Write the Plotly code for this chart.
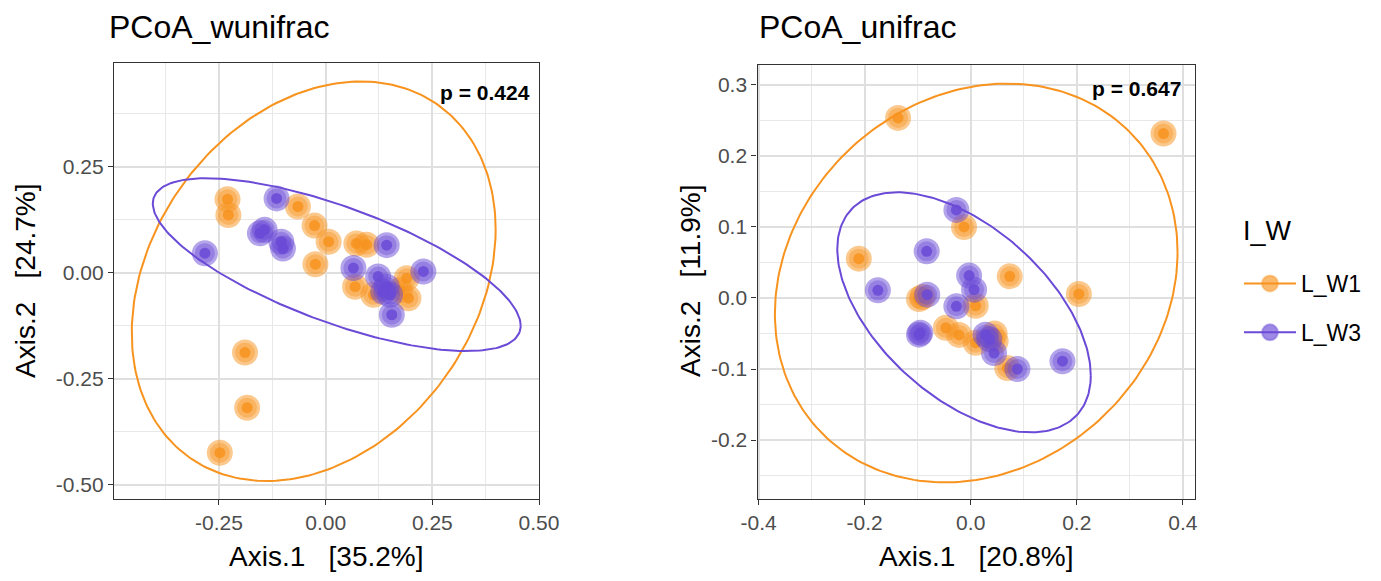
import numpy as np
import plotly.graph_objects as go

# ---------------- data ----------------
groups = ["L_W1", "L_W3"]
colors = {"L_W1": "#F7931E", "L_W3": "#6A4AD6"}
rgb = {"L_W1": (247, 147, 30), "L_W3": (106, 74, 214)}

# PCoA weighted unifrac
w_x_W1 = [-0.230, -0.228, -0.065, -0.026, 0.007, -0.024, 0.072, 0.096, 0.069, 0.112,
          0.174, 0.190, 0.194, -0.189, -0.184, -0.248]
w_y_W1 = [0.173, 0.136, 0.156, 0.111, 0.073, 0.020, 0.069, 0.066, -0.033, -0.052,
          -0.041, -0.013, -0.060, -0.188, -0.318, -0.424]
w_x_W3 = [-0.283, -0.115, -0.154, -0.143, -0.104, -0.100, 0.143, 0.065, 0.229, 0.123,
          0.143, 0.151, 0.135, 0.155]
w_y_W3 = [0.046, 0.175, 0.093, 0.101, 0.073, 0.057, 0.065, 0.011, 0.003, -0.009,
          -0.033, -0.052, -0.045, -0.099]

# PCoA unweighted unifrac
u_x_W1 = [-0.137, 0.3635, -0.0126, -0.211, 0.0736, 0.204, -0.0975, -0.091, 0.0094, -0.047,
          -0.022, 0.0094, 0.047, 0.069, 0.045]
u_y_W1 = [0.2535, 0.2315, 0.100, 0.0554, 0.0305, 0.0056, -0.0014, 0.0014, -0.011, -0.042,
          -0.052, -0.063, -0.061, -0.0986, -0.050]
u_x_W3 = [-0.027, -0.083, -0.003, 0.0063, -0.175, -0.082, -0.027, -0.0975, -0.095, 0.028,
          0.044, 0.088, 0.173, 0.035]
u_y_W3 = [0.124, 0.0657, 0.0315, 0.0117, 0.0108, 0.0047, -0.0117, -0.0516, -0.049, -0.0516,
          -0.0775, -0.100, -0.089, -0.058]

# confidence ellipses: centre and shape matrix
w_ell_center = {"L_W1": [-0.028, -0.020], "L_W3": [0.026, 0.019]}
w_ell_shape = {"L_W1": [[0.1818, 0.052], [0.052, 0.2214]],
               "L_W3": [[0.1858, -0.062], [-0.062, 0.04145]]}
u_ell_center = {"L_W1": [0.0104, 0.0211], "L_W3": [-0.0126, -0.0202]}
u_ell_shape = {"L_W1": [[0.1441, 0.0165], [0.0165, 0.0788]],
               "L_W3": [[0.0571, -0.0213], [-0.0213, 0.02856]]}

p_values = ["p = 0.424", "p = 0.647"]
titles = ["PCoA_wunifrac", "PCoA_unifrac"]
x_titles = ["Axis.1\u00a0\u00a0\u00a0[35.2%]", "Axis.1\u00a0\u00a0\u00a0[20.8%]"]
y_titles = ["Axis.2\u00a0\u00a0\u00a0[24.7%]", "Axis.2\u00a0\u00a0\u00a0[11.9%]"]
legend_title = "I_W"

w_xticks = [-0.25, 0.0, 0.25, 0.5]
w_xlabels = ["-0.25", "0.00", "0.25", "0.50"]
w_yticks = [-0.5, -0.25, 0.0, 0.25]
w_ylabels = ["-0.50", "-0.25", "0.00", "0.25"]
u_xticks = [-0.4, -0.2, 0.0, 0.2, 0.4]
u_xlabels = ["-0.4", "-0.2", "0.0", "0.2", "0.4"]
u_yticks = [-0.2, -0.1, 0.0, 0.1, 0.2, 0.3]
u_ylabels = ["-0.2", "-0.1", "0.0", "0.1", "0.2", "0.3"]

# ---------------- figure ----------------
W, H = 1381, 581
FONT = "Liberation Sans, Arial, sans-serif"
fig = go.Figure()


def rgba(g, a):
    r, gg, b = rgb[g]
    return f"rgba({r},{gg},{b},{a})"


def ellipse(center, shape):
    t = np.linspace(0, 2 * np.pi, 241)
    L = np.linalg.cholesky(np.array(shape))
    pts = L @ np.vstack([np.cos(t), np.sin(t)])
    return center[0] + pts[0], center[1] + pts[1]


panels = [
    ("x", "y", {"L_W1": (w_x_W1, w_y_W1), "L_W3": (w_x_W3, w_y_W3)}, w_ell_center, w_ell_shape),
    ("x2", "y2", {"L_W1": (u_x_W1, u_y_W1), "L_W3": (u_x_W3, u_y_W3)}, u_ell_center, u_ell_shape),
]

for xa, ya, data, ec, es in panels:
    for g in groups:
        xs, ys = data[g]
        fig.add_trace(go.Scatter(x=xs, y=ys, xaxis=xa, yaxis=ya, mode="markers",
                                 marker=dict(size=26, color=rgba(g, 0.5), line=dict(width=0)),
                                 showlegend=False, hoverinfo="skip"))
        fig.add_trace(go.Scatter(x=xs, y=ys, xaxis=xa, yaxis=ya, mode="markers",
                                 marker=dict(size=20, color=rgba(g, 0.4), line=dict(width=0)),
                                 showlegend=False, hoverinfo="skip"))
        fig.add_trace(go.Scatter(x=xs, y=ys, xaxis=xa, yaxis=ya, mode="markers",
                                 marker=dict(size=11, color=rgba(g, 0.85), line=dict(width=0)),
                                 showlegend=False, hoverinfo="skip"))
    for g in groups:
        ex, ey = ellipse(ec[g], es[g])
        fig.add_trace(go.Scatter(x=ex, y=ey, xaxis=xa, yaxis=ya, mode="lines",
                                 line=dict(color=colors[g], width=2),
                                 showlegend=False, hoverinfo="skip"))

# legend entries
for g in groups:
    fig.add_trace(go.Scatter(x=[None], y=[None], mode="lines+markers", name=g,
                             legendgroup=g,
                             line=dict(color=colors[g], width=2),
                             marker=dict(size=16, color=rgba(g, 0.65),
                                         line=dict(color=rgba(g, 0.4), width=2))))


def px_x(p):
    return p / W


def px_y(p):
    return 1 - p / H


axis_common = dict(
    automargin=False,
    showline=True, mirror=True, linecolor="#333333", linewidth=1.3,
    ticks="outside", ticklen=5, tickcolor="#333333", tickwidth=1.2,
    showgrid=True, gridcolor="#DFDFDF", gridwidth=1.7,
    zeroline=False, tickfont=dict(family=FONT, size=21, color="#4D4D4D"),
)
minor_common = dict(showgrid=True, gridcolor="#E8E8E8", gridwidth=1.4, ticks="")

fig.update_layout(
    width=W, height=H,
    margin=dict(l=0, r=0, t=0, b=0, autoexpand=False),
    paper_bgcolor="white", plot_bgcolor="white",
    font=dict(family=FONT, color="black"),
    xaxis=dict(domain=[px_x(114), px_x(539)], range=[-0.496, 0.5], anchor="y",
               tickvals=w_xticks, ticktext=w_xlabels,
               minor=dict(dtick=0.125, tick0=0, **minor_common), **axis_common),
    yaxis=dict(domain=[px_y(499), px_y(63)], range=[-0.533, 0.494], anchor="x",
               tickvals=w_yticks, ticktext=w_ylabels,
               minor=dict(dtick=0.125, tick0=0, **minor_common), **axis_common),
    xaxis2=dict(domain=[px_x(757.5), px_x(1195)], range=[-0.402, 0.4229], anchor="y2",
                tickvals=u_xticks, ticktext=u_xlabels,
                minor=dict(dtick=0.1, tick0=0, **minor_common), **axis_common),
    yaxis2=dict(domain=[px_y(499), px_y(65)], range=[-0.283, 0.328], anchor="x2",
                tickvals=u_yticks, ticktext=u_ylabels,
                minor=dict(dtick=0.05, tick0=0, **minor_common), **axis_common),
    legend=dict(x=px_x(1239), y=px_y(262), xanchor="left", yanchor="top",
                font=dict(family=FONT, size=23, color="black"),
                tracegroupgap=16, itemwidth=52, bgcolor="rgba(0,0,0,0)"),
)

annotations = []
# titles
for xl, tt in [(107, titles[0]), (757, titles[1])]:
    annotations.append(dict(x=px_x(xl), y=px_y(27), xref="paper", yref="paper",
                            text=tt, showarrow=False, xanchor="left", yanchor="middle",
                            font=dict(family=FONT, size=32, color="black")))
# x titles
for xc, tt in [(326.5, x_titles[0]), (976, x_titles[1])]:
    annotations.append(dict(x=px_x(xc), y=px_y(556), xref="paper", yref="paper",
                            text=tt, showarrow=False, xanchor="center", yanchor="middle",
                            font=dict(family=FONT, size=28, color="black")))
# y titles
for xc, tt in [(25, y_titles[0]), (690, y_titles[1])]:
    annotations.append(dict(x=px_x(xc), y=px_y(281), xref="paper", yref="paper",
                            text=tt, showarrow=False, textangle=-90,
                            xanchor="center", yanchor="middle",
                            font=dict(family=FONT, size=28, color="black")))
# legend title
annotations.append(dict(x=px_x(1241), y=px_y(231), xref="paper", yref="paper",
                        text=legend_title, showarrow=False, xanchor="left", yanchor="middle",
                        font=dict(family=FONT, size=27, color="black")))
# p values
annotations.append(dict(x=0.983, y=0.933, xref="x domain", yref="y domain", text=f"<b>{p_values[0]}</b>",
                        showarrow=False, xanchor="right", yanchor="middle",
                        font=dict(family=FONT, size=21, color="black")))
annotations.append(dict(x=0.9726, y=0.945, xref="x2 domain", yref="y2 domain", text=f"<b>{p_values[1]}</b>",
                        showarrow=False, xanchor="right", yanchor="middle",
                        font=dict(family=FONT, size=21, color="black")))
fig.update_layout(annotations=annotations)

fig.write_html("out.html", config={"displayModeBar": False},
               post_script="document.body.style.margin='0px';")
